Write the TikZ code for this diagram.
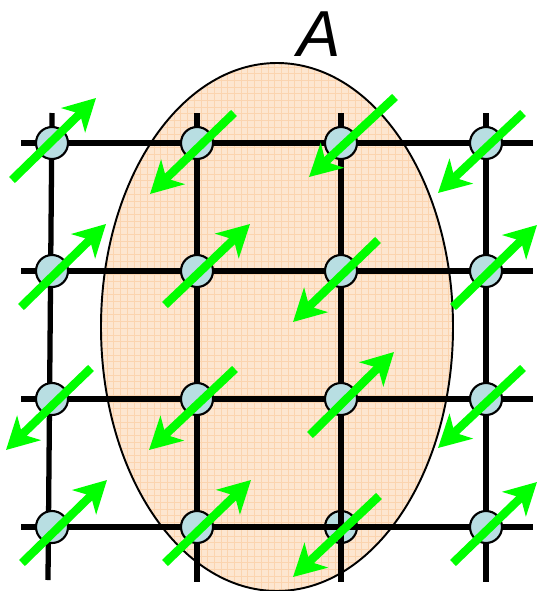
\documentclass[tikz,border=0pt]{standalone}
\usepackage{fontspec}
\setmainfont{Liberation Sans}
\usetikzlibrary{arrows.meta}

\definecolor{regionfill}{RGB}{253,230,208}
\definecolor{regiongrid}{RGB}{251,212,175}
\definecolor{sitefill}{RGB}{184,222,226}
\definecolor{spingreen}{RGB}{0,255,0}

\tikzset{
  bond/.style={line width=1.5pt,black,line cap=butt},
  site/.style={circle,draw=black,line width=0.6pt,fill=sitefill,minimum size=3.2mm,inner sep=0pt},
  spin/.style={draw=spingreen,line width=2.4pt,-{Stealth[length=9pt,width=9.6pt,inset=2.6pt]}},
  region/.style={draw=black,line width=0.55pt}
}

\begin{document}
\begin{tikzpicture}[x=0.1mm,y=-0.1mm]
\useasboundingbox (0,0) rectangle (537,591);
% the region A
\begin{scope}
\clip (277,327) ellipse [x radius=176,y radius=264];
\fill[regionfill] (90,50) rectangle (470,600);
\draw[regiongrid,line width=0.25pt,step=0.67mm] (90,50) grid (470,600);
\end{scope}
\draw[region] (277,327) ellipse [x radius=176,y radius=264];
\node[font=\fontsize{18.5}{20}\selectfont\itshape,inner sep=0pt] (label) at (319,34) {A};
% lattice
\foreach \y [count=\r] in {143,271,399,527} {
  \coordinate (w\r) at (21,\y);
  \coordinate (e\r) at (533,\y);
}
\coordinate (n1) at (52,113);
\coordinate (b1) at (48,580);
\foreach \x [count=\c from 2] in {197,341,486} {
  \coordinate (n\c) at (\x,113);
  \coordinate (b\c) at (\x,582);
}
\foreach \i in {1,...,4} {
  \draw[bond] (w\i) -- (e\i);
  \draw[bond] (n\i) -- (b\i);
}
\foreach \x [count=\c] in {52,197,341,486}
  \foreach \y [count=\r] in {143,271,399,527}
    \node[site] (s\r\c) at (\x,\y) {};
\draw[bond] (s43.north) -- (s43.south);
\draw[bond] (s43.west) -- (s43.east);
% spins
\foreach \n/\tx/\ty/\hx/\hy in {
  s11/-40/37/44/-45, s12/37/-30/-47/51, s13/54/-46/-32/34, s14/37/-30/-48/50,
  s21/-31/36/54/-47, s22/-32/34/53/-47, s23/37/-31/-48/51, s24/-33/36/51/-46,
  s31/39/-31/-46/51, s32/38/-30/-48/51, s33/-31/36/53/-47, s34/37/-31/-48/49,
  s41/-30/36/55/-47, s42/-32/36/54/-47, s43/38/-31/-48/50, s44/-33/36/51/-45}
  \draw[spin] ([shift={(\tx,\ty)}]\n.center) -- ([shift={(\hx,\hy)}]\n.center);
\end{tikzpicture}
\end{document}
